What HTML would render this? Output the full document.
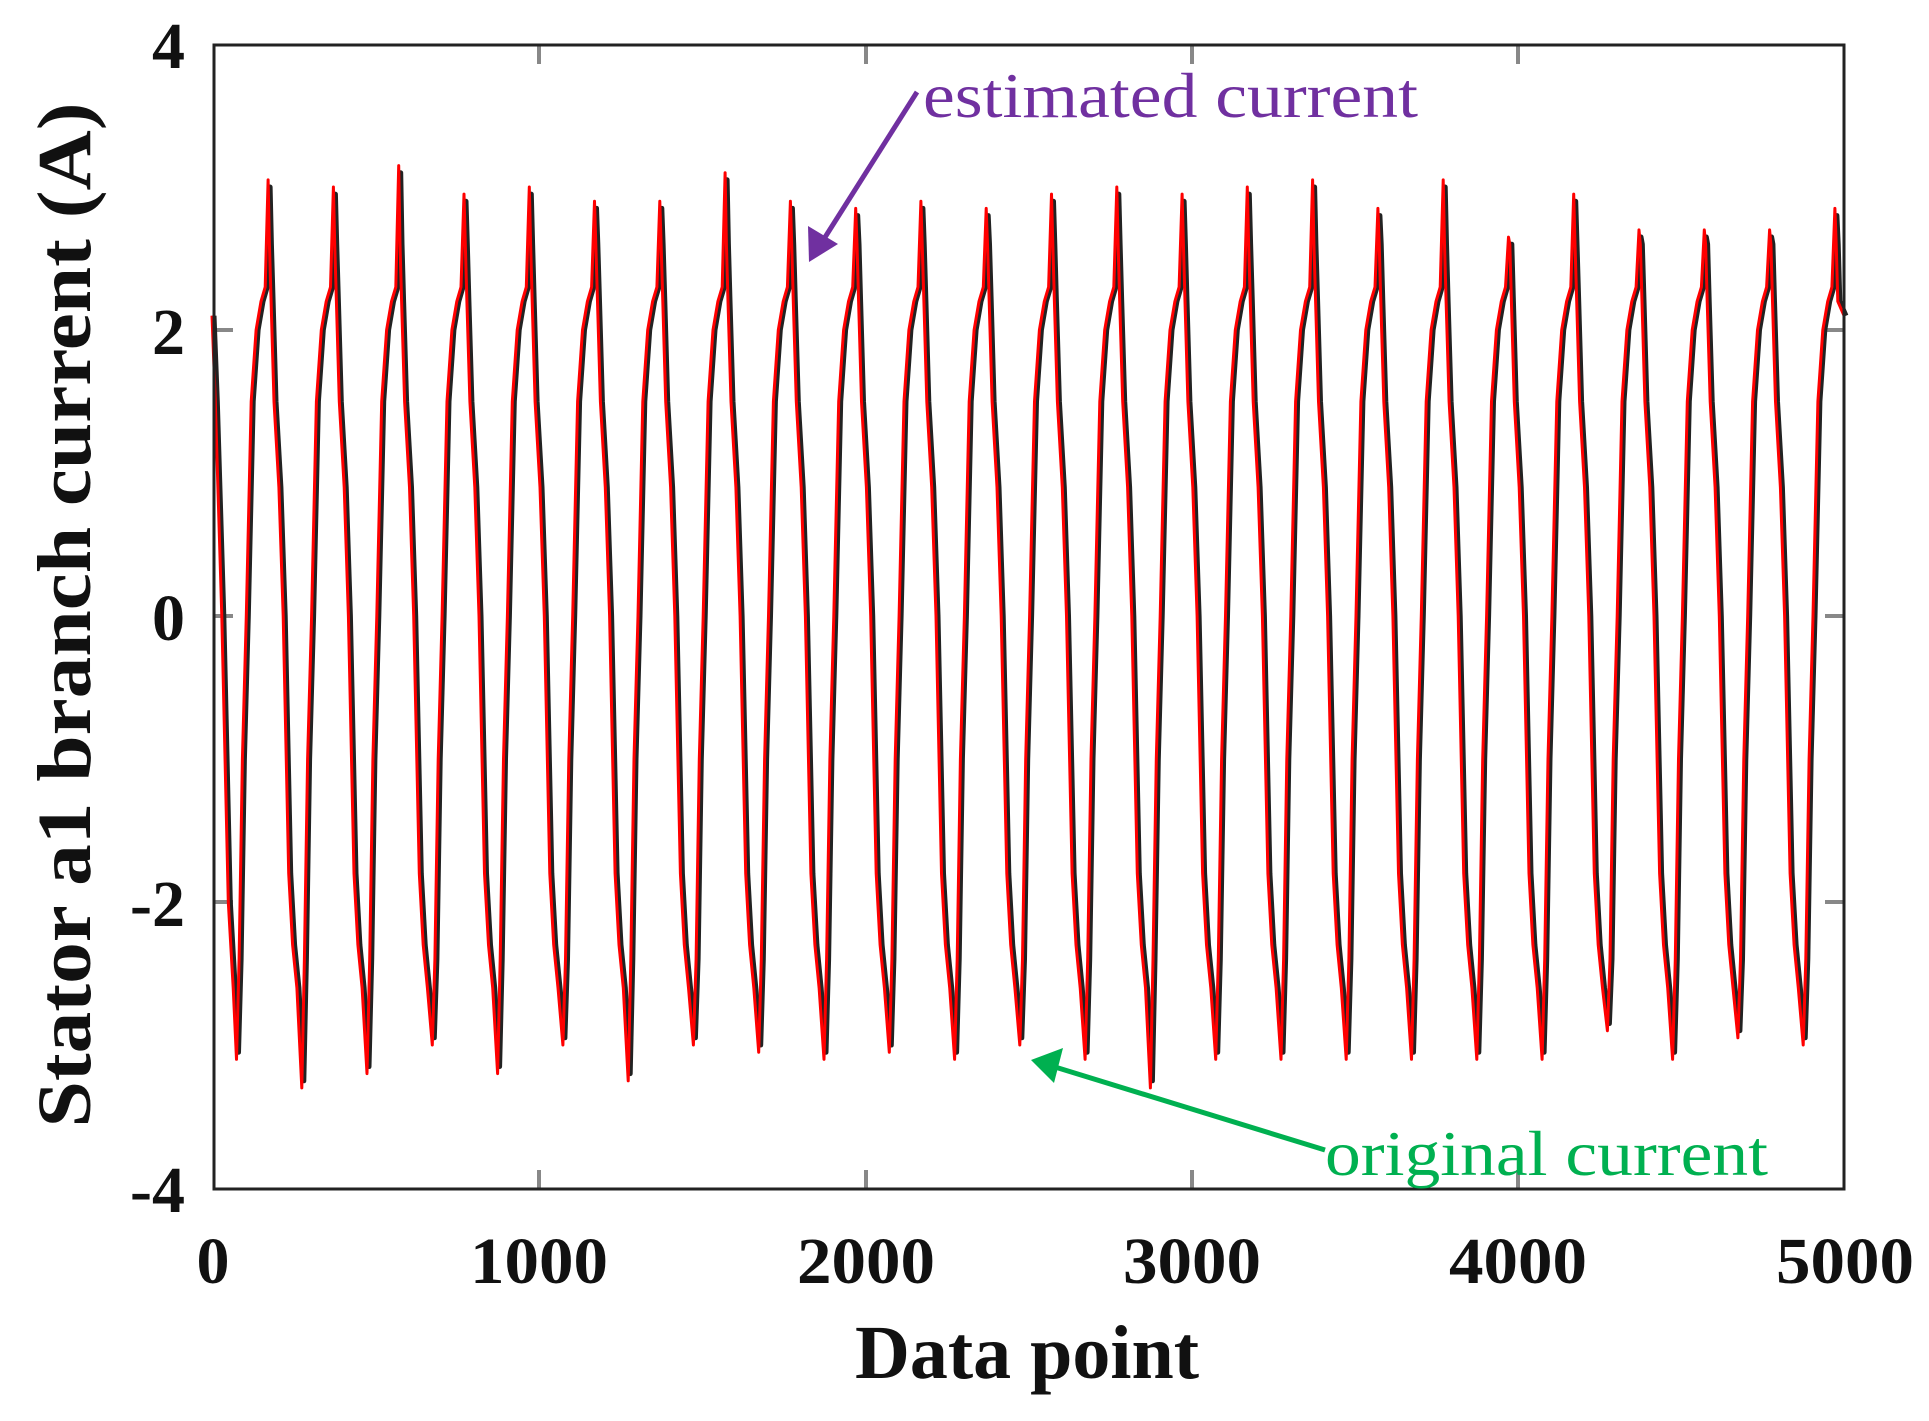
<!DOCTYPE html>
<html><head><meta charset="utf-8"><style>html,body{margin:0;padding:0;background:#fff}</style></head>
<body>
<svg id="s" width="1929" height="1416" viewBox="0 0 1929 1416" xmlns="http://www.w3.org/2000/svg">
<g stroke="#888" stroke-width="4">
<path d="M539,46v18 M866,46v18 M1192,46v18 M1518,46v18 M539,1188v-18 M866,1188v-18 M1192,1188v-18 M1518,1188v-18 M215,330h18 M215,616h18 M215,902h18 M1843,330h-18 M1843,616h-18 M1843,902h-18"/>
</g>
<g id="curves"></g>
<rect x="214" y="45" width="1630" height="1144" fill="none" stroke="#222" stroke-width="3"/>
<g font-family="Liberation Serif, serif" font-weight="bold" font-size="66" fill="#111">
<text x="185" y="68" text-anchor="end">4</text>
<text x="185" y="354" text-anchor="end">2</text>
<text x="185" y="640" text-anchor="end">0</text>
<text x="185" y="926" text-anchor="end">-2</text>
<text x="185" y="1212" text-anchor="end">-4</text>
<text x="213" y="1283" text-anchor="middle">0</text>
<text x="539" y="1283" text-anchor="middle" textLength="138" lengthAdjust="spacingAndGlyphs">1000</text>
<text x="866" y="1283" text-anchor="middle" textLength="138" lengthAdjust="spacingAndGlyphs">2000</text>
<text x="1192" y="1283" text-anchor="middle" textLength="138" lengthAdjust="spacingAndGlyphs">3000</text>
<text x="1518" y="1283" text-anchor="middle" textLength="138" lengthAdjust="spacingAndGlyphs">4000</text>
<text x="1845" y="1283" text-anchor="middle" textLength="138" lengthAdjust="spacingAndGlyphs">5000</text>
<text x="1027" y="1378" text-anchor="middle" font-size="76" textLength="344" lengthAdjust="spacingAndGlyphs">Data point</text>
<text transform="translate(90,615) rotate(-90)" text-anchor="middle" font-size="76" textLength="1025" lengthAdjust="spacingAndGlyphs">Stator a1 branch current (A)</text>
</g>
<text x="923" y="117" font-family="Liberation Serif, serif" font-size="64" fill="#7030A0" textLength="495" lengthAdjust="spacingAndGlyphs">estimated current</text>
<text x="1325" y="1175" font-family="Liberation Serif, serif" font-size="64" fill="#00B050" textLength="443" lengthAdjust="spacingAndGlyphs">original current</text>
<line x1="917" y1="92" x2="822" y2="242" stroke="#7030A0" stroke-width="5"/>
<path d="M809,262 L808,226 L838,244 z" fill="#7030A0"/>
<line x1="1325" y1="1150" x2="1055" y2="1067" stroke="#00B050" stroke-width="5"/>
<path d="M1031,1060 L1063,1048 L1054,1083 z" fill="#00B050"/>
</svg>
<script>
var pk=[3.05,3.0,3.15,2.95,3.0,2.9,2.9,3.1,2.9,2.85,2.9,2.85,2.95,3.0,2.95,3.0,3.05,2.85,3.05,2.65,2.95,2.7,2.7,2.7,2.85];
var tr=[-3.1,-3.3,-3.2,-3.0,-3.2,-3.0,-3.25,-3.0,-3.05,-3.1,-3.05,-3.1,-3.0,-3.1,-3.3,-3.1,-3.1,-3.1,-3.1,-3.1,-3.1,-2.9,-3.1,-2.95,-3.0];
var shape=[[8,-2.4],[18,-1],[30,0],[45,1.5],[60,2.0],[75,2.2],[88,2.3],[97,'P'],[101,2.6],[106,2.2],[115,1.5],[130,0.9],[143,0],[160,-1.8],[172,-2.3],[185,-2.6]];
function X(d){return 213+d*0.3264}function Y(v){return 616-v*143}
function build(dx,dy,noise){
 var pts=[[0,2.1],[10,1.5],[30,0],[50,-2],[65,-2.6]];
 for(var k=0;k<25;k++){var b=75+200*k;pts.push([b,tr[k]+(noise?0.05:0)]);
  shape.forEach(function(s){var v=s[1]==='P'?pk[k]+(noise?-0.05:0):s[1];if(b+s[0]<=4985)pts.push([b+s[0],v]);});}
 pts.push([5000,2.1]);
 return pts.map(function(p,i){return(i?'L':'M')+(X(p[0])+dx).toFixed(1)+','+(Y(p[1])+dy).toFixed(1)}).join('');
}
var g=document.getElementById('curves');
g.innerHTML='<path d="'+build(1,0,true)+'" fill="none" stroke="#222" stroke-width="5" stroke-linejoin="round"/>'+
'<path d="'+build(-1,0,false)+'" fill="none" stroke="#f00" stroke-width="3" stroke-linejoin="round"/>';
</script>
</body></html>
